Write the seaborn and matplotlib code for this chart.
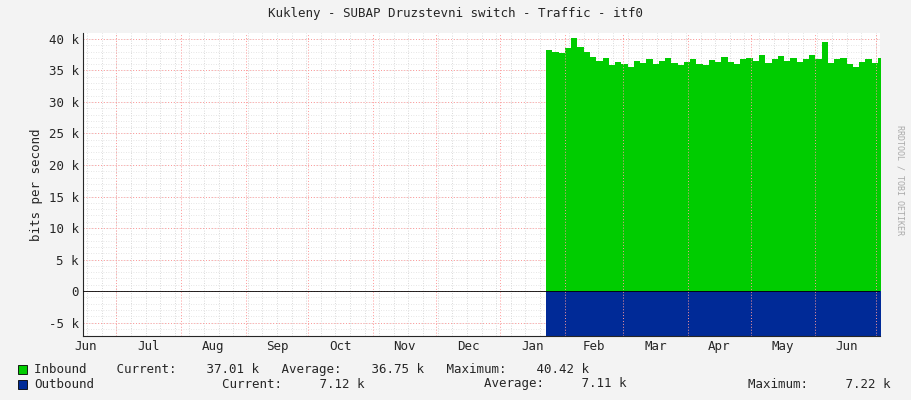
import matplotlib
matplotlib.use("Agg")
import matplotlib.pyplot as plt
import seaborn as sns
import numpy as np

sns.set_style("white")
plt.rcParams["font.family"] = "DejaVu Sans Mono"

inbound_k = [38.2, 38.0, 37.8, 38.5, 40.2, 38.8, 38.0, 37.2, 36.5, 37.0, 35.8, 36.3, 36.0, 35.5,
             36.5, 36.2, 36.8, 36.0, 36.5, 37.0, 36.2, 35.8, 36.4, 36.9, 36.0, 35.9, 36.6, 36.3,
             37.2, 36.4, 36.0, 36.8, 37.0, 36.5, 37.5, 36.2, 36.8, 37.3, 36.5, 37.0, 36.4, 36.8,
             37.5, 36.9, 39.5, 36.2, 36.8, 37.0, 36.0, 35.6, 36.4, 36.8, 36.2, 37.0]
outbound_k = [7.1, 7.12, 7.1, 7.15, 7.1, 7.08, 7.1, 7.12, 7.1, 7.11, 7.1, 7.13, 7.1, 7.09,
              7.1, 7.12, 7.1, 7.11, 7.1, 7.1, 7.12, 7.1, 7.1, 7.11, 7.1, 7.12, 7.1, 7.1,
              7.11, 7.1, 7.12, 7.1, 7.1, 7.11, 7.1, 7.12, 7.1, 7.1, 7.11, 7.1, 7.12, 7.1,
              7.1, 7.11, 7.22, 7.1, 7.12, 7.1, 7.1, 7.11, 7.1, 7.12, 7.1, 7.12]
start_day, step_days = 206, 3  # days after Jul 1
month_labels = ["Jun", "Jul", "Aug", "Sep", "Oct", "Nov", "Dec", "Jan", "Feb", "Mar", "Apr", "May", "Jun"]
month_starts = [0, 31, 62, 92, 123, 153, 184, 215, 243, 274, 304, 335, 365]  # Jul1..Jul1
y_ticks_k = [-5, 0, 5, 10, 15, 20, 25, 30, 35, 40]

days = start_day + step_days * np.arange(len(inbound_k) + 1)
inb = np.array(inbound_k + [inbound_k[-1]]) * 1000
outb = -np.array(outbound_k + [outbound_k[-1]]) * 1000

fig = plt.figure(figsize=(9.11, 4.0), dpi=100, facecolor="#F3F3F3")
ax = fig.add_axes([83/911, 64/400, 797/911, 303/400])
ax.set_facecolor("white")
xmin, xmax = -16, 366
ax.set_xlim(xmin, xmax)
ax.set_ylim(-7140, 40950)

# minor grid
for d in range(-14, 366, 7):
    ax.axvline(d, color="#CCCCCC", lw=0.6, ls=(0, (1, 2)), zorder=0)
for yv in range(-6000, 41000, 1000):
    ax.axhline(yv, color="#DDDDDD", lw=0.6, ls=(0, (1, 2)), zorder=0)
for m in month_starts[:-1] + [364]:
    ax.axvline(m, color="#FF9999", lw=0.7, ls=(0, (1, 2)), zorder=3)
for yv in y_ticks_k:
    ax.axhline(yv*1000, color="#FF9999", lw=0.7, ls=(0, (1, 2)), zorder=0.5)

ax.fill_between(days, 0, inb, step="post", color="#00CC00", lw=0, zorder=2)
ax.fill_between(days, 0, outb, step="post", color="#002A97", lw=0, zorder=2)
ax.axhline(0, color="black", lw=0.6, zorder=4)

ax.set_yticks([v*1000 for v in y_ticks_k])
ax.set_yticklabels([("0" if v == 0 else f"{v} k") for v in y_ticks_k], fontsize=9)
centers = [(-16 + 0) / 2 - 7] + [(month_starts[i] + month_starts[i+1]) / 2 for i in range(12)]
centers[0] = -15
ax.set_xticks(centers)
ax.set_xticklabels(month_labels, fontsize=9)
ax.tick_params(length=0, pad=3)
for s in ["top", "right"]:
    ax.spines[s].set_visible(False)
ax.set_ylabel("bits per second", fontsize=9)

fig.text(0.5, 0.965, "Kukleny - SUBAP Druzstevni switch - Traffic - itf0", ha="center", va="center", fontsize=9)
fig.text(0.988, 0.55, "RRDTOOL / TOBI OETIKER", rotation=270, ha="center", va="center", fontsize=6, color="#AAAAAA")

def sq(x, y, c):
    fig.patches.append(plt.Rectangle((x, y), 9/911, 9/400, transform=fig.transFigure, fc=c, ec="black", lw=0.6))
sq(18/911, 1 - 374/400, "#00CC00")
sq(18/911, 1 - 389/400, "#002A97")
fs = 9
y1, y2 = 1 - 369/400, 1 - 384/400
fig.text(34/911, y1, "Inbound    Current:    37.01 k   Average:    36.75 k   Maximum:    40.42 k", fontsize=fs, va="center")
fig.text(34/911, y2, "Outbound", fontsize=fs, va="center")
fig.text(222/911, y2, "Current:     7.12 k", fontsize=fs, va="center")
fig.text(484/911, y2, "Average:     7.11 k", fontsize=fs, va="center")
fig.text(748/911, y2, "Maximum:     7.22 k", fontsize=fs, va="center")

fig.savefig("out.png", dpi=100, facecolor=fig.get_facecolor())
